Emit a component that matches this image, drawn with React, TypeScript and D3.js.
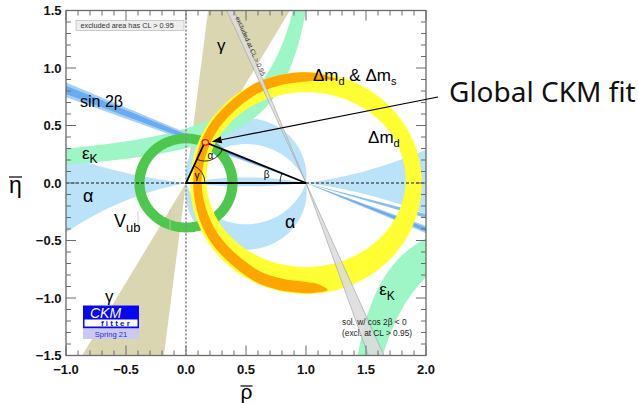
import React, { useRef, useEffect } from "react";
import * as d3 from "d3";

type Pt = [number, number];

// axes
const rhoDomain: Pt = [-1, 2];
const etaDomain: Pt = [-1.5, 1.5];
const rhoTicks = [-1, -0.5, 0, 0.5, 1, 1.5, 2];
const etaTicks = [-1.5, -1, -0.5, 0, 0.5, 1, 1.5];

// fitted apex of the unitarity triangle (rho, eta)
const apex: Pt = [0.157, 0.356];

// gamma: double wedge from the origin (degrees)
const gammaAngles: Pt = [60, 83];

// sin 2beta: lines through (1,0), eta reached at rho = -1
const sin2bHalo: Pt = [0.745, 0.875];
const sin2bCore: Pt = [0.775, 0.845];
// thin alpha streak below the axis, eta at rho = 2
const alphaStreak: Pt = [-0.27, -0.305];

// cos 2beta < 0 solution: rho at eta = +1.5 and at eta = -1.5
const cos2bTop: Pt = [0.34, 0.4];
const cos2bBottom: Pt = [1.52, 1.65];

// alpha: circles through (0,0) and (1,0) with centre (0.5, k)
const alphaLeftK: Pt = [4.3, -2.54];
const alphaRightK: Pt = [3.59, -3.84];
const alphaUpperK: Pt = [0.06, -0.2];
const alphaLowerK: Pt = [-0.0745, 0.169];

// epsilon_K edges: eta = c + k / (a - rho), as [a, k, c]
const epsUpperEdges = [
  [1.228, 0.478, 0.0855],
  [1.27, 0.4104, -0.0208],
];
const epsLowerEdges = [
  [1.162, 0.402, 0],
  [1.206, 0.651, 0],
];

// |V_ub|: ring around the origin
const vubRadii: Pt = [0.345, 0.43];

// dm_d: outer circle around (1,0), inner ellipse [cx, cy, rx, ry]
const dmdOuterR = 0.965;
const dmdInner = [1.0, 0.03, 0.83, 0.76];

// dm_d & dm_s band around (1,0): polar angle (deg), outer and inner radius
const dmsAngles = [74, 82, 90, 105, 120, 150, 180, 210, 240, 255, 270, 276, 281];
const dmsOuter = [0.935, 0.952, 0.962, 0.963, 0.96, 0.95, 0.94, 0.945, 0.952, 0.957, 0.958, 0.955, 0.947];
const dmsInner = [0.935, 0.905, 0.882, 0.876, 0.874, 0.87, 0.87, 0.858, 0.855, 0.855, 0.86, 0.88, 0.947];

// arrow of the "Global CKM fit" label (data coords)
const arrowTail: Pt = [2.1, 0.748];
const arrowTip: Pt = [0.214, 0.359];

const FONT = "Liberation Sans, Arial, Helvetica, sans-serif";

export default function App() {
  const svgRef = useRef<SVGSVGElement | null>(null);

  useEffect(() => {
    if (!svgRef.current) return;
    document.body.style.margin = "0";

    const svg = d3.select(svgRef.current);
    svg.selectAll("*").remove();

    const x = d3.scaleLinear().domain(rhoDomain).range([66, 426]);
    const y = d3.scaleLinear().domain(etaDomain).range([355.5, 10.5]);

    const poly = d3
      .line<Pt>()
      .x((d) => x(d[0]))
      .y((d) => y(d[1]))
      .curve(d3.curveLinearClosed);
    const smooth = d3
      .line<Pt>()
      .x((d) => x(d[0]))
      .y((d) => y(d[1]))
      .curve(d3.curveCatmullRomClosed.alpha(0.5));

    const rad = (deg: number) => (deg * Math.PI) / 180;

    const ellipse = (cx: number, cy: number, rx: number, ry: number): Pt[] =>
      d3.range(0, 360, 2).map((a) => [cx + rx * Math.cos(rad(a)), cy + ry * Math.sin(rad(a))] as Pt);

    // near-axis branch of a circle through (0,0),(1,0)
    const nearArc = (k: number, r: number) =>
      k - Math.sign(k) * Math.sqrt(k * k + 0.25 - (r - 0.5) * (r - 0.5));

    // far arc of that circle from (1,0) to (0,0), above (up) or below
    const farArc = (k: number, up: boolean): Pt[] => {
      const R = Math.sqrt(k * k + 0.25);
      let a0 = Math.atan2(-k, 0.5);
      let a1 = Math.atan2(-k, -0.5);
      if (!up) {
        const t = a0;
        a0 = Math.atan2(-k, -0.5);
        a1 = t;
      }
      if (a1 < a0) a1 += 2 * Math.PI;
      const pts = d3.range(0, 121).map((i) => {
        const a = a0 + ((a1 - a0) * i) / 120;
        return [0.5 + R * Math.cos(a), k + R * Math.sin(a)] as Pt;
      });
      return up ? pts : pts.reverse();
    };

    const defs = svg.append("defs");
    defs
      .append("clipPath")
      .attr("id", "plotClip")
      .append("rect")
      .attr("x", 66)
      .attr("y", 10.5)
      .attr("width", 360)
      .attr("height", 345);

    svg.append("rect").attr("width", 638).attr("height", 403).attr("fill", "#fff");

    const plot = svg.append("g").attr("clip-path", "url(#plotClip)");

    // gamma
    const wedge = (cx: number, cy: number, a1: number, a2: number, R = 4): Pt[] => [
      [cx, cy],
      [cx + R * Math.cos(rad(a1)), cy + R * Math.sin(rad(a1))],
      [cx + R * Math.cos(rad(a2)), cy + R * Math.sin(rad(a2))],
    ];
    [0, 180].forEach((off) => {
      plot
        .append("path")
        .attr("d", poly(wedge(0, 0, gammaAngles[0] + off, gammaAngles[1] + off)))
        .attr("fill", "#dad6b1");
    });

    // alpha
    const alphaFill = "#bae2f8";
    const rL = d3.range(-1.05, 0.0001, 0.01);
    const rM = d3.range(0, 1.0001, 0.01);
    const rR = d3.range(1, 2.0501, 0.01);
    const regionA: Pt[] = [
      ...rL.map((r) => [r, nearArc(alphaLeftK[0], r)] as Pt),
      ...rL.slice().reverse().map((r) => [r, nearArc(alphaLeftK[1], r)] as Pt),
    ];
    const regionB: Pt[] = [
      ...rM.map((r) => [r, nearArc(alphaLeftK[1], r)] as Pt),
      ...rM.slice().reverse().map((r) => [r, nearArc(alphaLeftK[0], r)] as Pt),
    ];
    const regionC: Pt[] = [
      ...rR.map((r) => [r, nearArc(alphaRightK[0], r)] as Pt),
      ...rR.slice().reverse().map((r) => [r, nearArc(alphaRightK[1], r)] as Pt),
    ];
    const regionD: Pt[] = [...farArc(alphaUpperK[0], true), ...farArc(alphaUpperK[1], true).reverse()];
    const regionE: Pt[] = [...farArc(alphaLowerK[0], false), ...farArc(alphaLowerK[1], false).reverse()];
    [regionA, regionB, regionC, regionD, regionE].forEach((reg) => {
      plot.append("path").attr("d", poly(reg)).attr("fill", alphaFill);
    });

    // epsilon_K
    const epsEta = (e: number[], r: number) => e[2] + e[1] / (e[0] - r);
    const upTopR = (e: number[]) => e[0] - e[1] / (1.6 - e[2]);
    const loBotR = (e: number[]) => e[0] + e[1] / (1.6 + e[2]);
    const [eb, es] = epsUpperEdges;
    const epsUp: Pt[] = [
      ...d3.range(-1.05, upTopR(eb), 0.002).map((r) => [r, epsEta(eb, r)] as Pt),
      [upTopR(eb), 1.6],
      [upTopR(es), 1.6],
      ...d3.range(upTopR(es), -1.05, -0.002).map((r) => [r, epsEta(es, r)] as Pt),
    ];
    const [ea, ec] = epsLowerEdges;
    const epsLo: Pt[] = [
      [loBotR(ea), -1.6],
      ...d3.range(loBotR(ea), 2.05, 0.002).map((r) => [r, epsEta(ea, r)] as Pt),
      ...d3.range(2.05, loBotR(ec), -0.002).map((r) => [r, epsEta(ec, r)] as Pt),
      [loBotR(ec), -1.6],
    ];
    [epsUp, epsLo].forEach((reg) => {
      plot.append("path").attr("d", poly(reg)).attr("fill", "#9ef5c5");
    });

    // sin 2beta (and its continuation through (1,0))
    const lineWedge = (e1: number, e2: number): Pt[][] => {
      const s1 = e1 / 2;
      const s2 = e2 / 2;
      return [
        [
          [1, 0],
          [-1.5, s1 * 2.5],
          [-1.5, s2 * 2.5],
        ],
        [
          [1, 0],
          [2.5, -s1 * 1.5],
          [2.5, -s2 * 1.5],
        ],
      ];
    };
    lineWedge(sin2bHalo[0], sin2bHalo[1]).forEach((w) =>
      plot.append("path").attr("d", poly(w)).attr("fill", "#a7cff6")
    );
    lineWedge(sin2bCore[0], sin2bCore[1]).forEach((w) =>
      plot.append("path").attr("d", poly(w)).attr("fill", "#69acf0")
    );
    plot
      .append("path")
      .attr(
        "d",
        poly([
          [1, 0],
          [2.5, alphaStreak[0] * 1.5],
          [2.5, alphaStreak[1] * 1.5],
        ])
      )
      .attr("fill", "#86bdf3");

    // |V_ub|
    plot
      .append("path")
      .attr("d", (smooth(ellipse(0, 0, vubRadii[1], vubRadii[1])) || "") + (smooth(ellipse(0, 0, vubRadii[0], vubRadii[0])) || ""))
      .attr("fill", "#4dc74d")
      .attr("fill-rule", "evenodd");

    // dm_d
    plot
      .append("path")
      .attr(
        "d",
        (smooth(ellipse(1, 0, dmdOuterR, dmdOuterR)) || "") +
          (smooth(ellipse(dmdInner[0], dmdInner[1], dmdInner[2], dmdInner[3])) || "")
      )
      .attr("fill", "#ffff33")
      .attr("fill-rule", "evenodd");

    // dm_d & dm_s
    const dmsPts: Pt[] = [
      ...dmsAngles.map((a, i) => [1 + dmsOuter[i] * Math.cos(rad(a)), dmsOuter[i] * Math.sin(rad(a))] as Pt),
      ...dmsAngles
        .slice(1, -1)
        .map((a, i) => [1 + dmsInner[i + 1] * Math.cos(rad(a)), dmsInner[i + 1] * Math.sin(rad(a))] as Pt)
        .reverse(),
    ];
    plot.append("path").attr("d", smooth(dmsPts)).attr("fill", "#ffa500");

    // cos 2beta < 0 solution
    const grayUp: Pt[] = [
      [1, 0],
      [cos2bTop[0], 1.5],
      [cos2bTop[1], 1.5],
    ];
    const grayDn: Pt[] = [
      [1, 0],
      [cos2bBottom[0], -1.5],
      [cos2bBottom[1], -1.5],
    ];
    [grayUp, grayDn].forEach((w) =>
      plot
        .append("path")
        .attr("d", poly(w))
        .attr("fill", "#dcdcdc")
        .attr("fill-opacity", 0.88)
        .attr("stroke", "#9c9c9c")
        .attr("stroke-width", 0.6)
    );

    // reference lines
    plot
      .append("line")
      .attr("x1", x(0))
      .attr("x2", x(0))
      .attr("y1", y(-1.5))
      .attr("y2", y(1.5))
      .attr("stroke", "#8a8a8a")
      .attr("stroke-width", 1.6)
      .attr("stroke-dasharray", "2,2");
    plot
      .append("line")
      .attr("x1", x(-1))
      .attr("x2", x(2))
      .attr("y1", y(0))
      .attr("y2", y(0))
      .attr("stroke", "#000")
      .attr("stroke-width", 0.9)
      .attr("stroke-dasharray", "3,2");

    // thin separators round the V_ub label
    [
      [-0.4, -0.25, -0.41],
      [-0.133, -0.23, -0.43],
    ].forEach(([r, e1, e2]) =>
      plot
        .append("line")
        .attr("x1", x(r))
        .attr("x2", x(r))
        .attr("y1", y(e1))
        .attr("y2", y(e2))
        .attr("stroke", "#c4c4c4")
        .attr("stroke-width", 0.8)
    );

    // triangle
    const O: Pt = [x(0), y(0)];
    const B: Pt = [x(1), y(0)];
    const P: Pt = [x(apex[0]), y(apex[1])];
    plot
      .append("path")
      .attr("d", `M${O[0]},${O[1]}L${B[0]},${B[1]}L${P[0]},${P[1]}Z`)
      .attr("fill", "none")
      .attr("stroke", "#000")
      .attr("stroke-width", 1.8)
      .attr("stroke-linejoin", "miter");

    const unit = (a: Pt, b: Pt): Pt => {
      const dx = b[0] - a[0];
      const dy = b[1] - a[1];
      const l = Math.hypot(dx, dy);
      return [dx / l, dy / l];
    };
    const angleMark = (V: Pt, A: Pt, C: Pt, r: number, lr: number, txt: string) => {
      const u1 = unit(V, A);
      const u2 = unit(V, C);
      const cross = u1[0] * u2[1] - u1[1] * u2[0];
      const p1 = [V[0] + r * u1[0], V[1] + r * u1[1]];
      const p2 = [V[0] + r * u2[0], V[1] + r * u2[1]];
      plot
        .append("path")
        .attr("d", `M${p1[0]},${p1[1]}A${r},${r} 0 0 ${cross > 0 ? 1 : 0} ${p2[0]},${p2[1]}`)
        .attr("fill", "none")
        .attr("stroke", "#000")
        .attr("stroke-width", 0.8);
      const bx = u1[0] + u2[0];
      const by = u1[1] + u2[1];
      const bl = Math.hypot(bx, by);
      plot
        .append("text")
        .attr("x", V[0] + (lr * bx) / bl)
        .attr("y", V[1] + (lr * by) / bl + 3)
        .attr("text-anchor", "middle")
        .attr("font-family", FONT)
        .attr("font-size", 10)
        .text(txt);
    };
    angleMark(P, O, B, 19, 15, "α");
    angleMark(O, B, P, 19, 13, "γ");
    angleMark(B, O, P, 26, 40, "β");

    // fit result at the apex
    plot
      .append("ellipse")
      .attr("cx", P[0] + 0.5)
      .attr("cy", P[1] + 0.3)
      .attr("rx", 3.2)
      .attr("ry", 2.8)
      .attr("fill", "#ffd21f")
      .attr("stroke", "#e8141a")
      .attr("stroke-width", 1.2);

    // labels inside the plot
    const label = (
      r: number,
      e: number,
      parts: { t: string; sub?: boolean }[],
      size = 16,
      subSize = 11
    ) => {
      const t = plot
        .append("text")
        .attr("x", x(r))
        .attr("y", y(e))
        .attr("font-family", FONT)
        .attr("font-size", size)
        .attr("fill", "#000");
      let down = false;
      parts.forEach((p) => {
        const s = t.append("tspan").text(p.t);
        if (p.sub) {
          s.attr("font-size", subSize).attr("dy", down ? 0 : 4.5);
          down = true;
        } else if (down) {
          s.attr("dy", -4.5);
          down = false;
        }
      });
    };
    label(-0.883, 0.661, [{ t: "sin 2β" }], 16);
    label(-0.867, 0.212, [{ t: "ε" }, { t: "K", sub: true }], 17, 12);
    label(-0.858, -0.165, [{ t: "α" }], 18);
    label(0.825, -0.39, [{ t: "α" }], 18);
    label(-0.6, -0.385, [{ t: "V" }, { t: "ub", sub: true }], 18, 13);
    label(0.258, 1.145, [{ t: "γ" }], 17);
    label(-0.675, -1.035, [{ t: "γ" }], 17);
    label(1.61, -0.975, [{ t: "ε" }, { t: "K", sub: true }], 17, 12);
    label(1.058, 0.89, [{ t: "Δm" }, { t: "d", sub: true }, { t: " & Δm" }, { t: "s", sub: true }], 17, 11);
    label(1.517, 0.348, [{ t: "Δm" }, { t: "d", sub: true }], 17, 11);

    // text along the excluded cos 2beta < 0 band
    plot
      .append("text")
      .attr("transform", `translate(${x(0.535)},${y(1.19)}) rotate(66)`)
      .attr("text-anchor", "middle")
      .attr("dy", 2)
      .attr("font-family", FONT)
      .attr("font-size", 6.6)
      .attr("fill", "#333")
      .text("excluded at CL > 0.95");

    plot
      .append("text")
      .attr("x", x(1.3))
      .attr("y", y(-1.235))
      .attr("font-family", FONT)
      .attr("font-size", 8.3)
      .attr("fill", "#222")
      .text("sol. w/ cos 2β < 0");
    plot
      .append("text")
      .attr("x", x(1.3))
      .attr("y", y(-1.33))
      .attr("font-family", FONT)
      .attr("font-size", 8.3)
      .attr("fill", "#222")
      .text("(excl. at CL > 0.95)");

    // legend box
    svg
      .append("rect")
      .attr("x", 76)
      .attr("y", 20.5)
      .attr("width", 108)
      .attr("height", 10)
      .attr("fill", "#eeeeee")
      .attr("stroke", "#b0b0b0")
      .attr("stroke-width", 0.6);
    svg
      .append("text")
      .attr("x", 80.5)
      .attr("y", 28.3)
      .attr("font-family", FONT)
      .attr("font-size", 7.3)
      .attr("fill", "#333")
      .text("excluded area has CL > 0.95");

    // CKMfitter logo
    const logo = svg.append("g");
    logo.append("rect").attr("x", 83).attr("y", 305.5).attr("width", 56).attr("height", 23).attr("fill", "#0808f0");
    logo.append("rect").attr("x", 84.5).attr("y", 319.5).attr("width", 53).attr("height", 7).attr("fill", "#fff");
    logo
      .append("text")
      .attr("x", 90)
      .attr("y", 317.5)
      .attr("font-family", FONT)
      .attr("font-style", "italic")
      .attr("font-size", 14)
      .attr("fill", "#fff")
      .text("CKM");
    logo
      .append("text")
      .attr("x", 101)
      .attr("y", 326)
      .attr("font-family", FONT)
      .attr("font-weight", "bold")
      .attr("font-size", 8)
      .attr("letter-spacing", 2.2)
      .attr("fill", "#0808f0")
      .text("fitter");
    logo.append("rect").attr("x", 83).attr("y", 328.5).attr("width", 56).attr("height", 10.5).attr("fill", "#cacaf0");
    logo
      .append("text")
      .attr("x", 111)
      .attr("y", 336.5)
      .attr("text-anchor", "middle")
      .attr("font-family", FONT)
      .attr("font-size", 7.6)
      .attr("fill", "#2a2ad8")
      .text("Spring 21");

    // frame and ticks
    const axisColor = "#6a6a6a";
    const minorR = d3.range(-1, 2.0001, 0.1);
    const minorE = d3.range(-1.5, 1.5001, 0.1);
    const isMajor = (v: number) => Math.abs(v * 2 - Math.round(v * 2)) < 1e-6;
    const ticks = svg.append("g").attr("stroke", axisColor).attr("stroke-width", 1);
    minorR.forEach((v) => {
      const L = isMajor(v) ? 10 : 5;
      ticks.append("line").attr("x1", x(v)).attr("x2", x(v)).attr("y1", y(-1.5)).attr("y2", y(-1.5) - L);
      ticks.append("line").attr("x1", x(v)).attr("x2", x(v)).attr("y1", y(1.5)).attr("y2", y(1.5) + L);
    });
    minorE.forEach((v) => {
      const L = isMajor(v) ? 10 : 5;
      ticks.append("line").attr("x1", x(-1)).attr("x2", x(-1) + L).attr("y1", y(v)).attr("y2", y(v));
      ticks.append("line").attr("x1", x(2)).attr("x2", x(2) - L).attr("y1", y(v)).attr("y2", y(v));
    });
    svg
      .append("rect")
      .attr("x", x(-1))
      .attr("y", y(1.5))
      .attr("width", x(2) - x(-1))
      .attr("height", y(-1.5) - y(1.5))
      .attr("fill", "none")
      .attr("stroke", axisColor)
      .attr("stroke-width", 1.3);

    const fmt = d3.format(".1f");
    rhoTicks.forEach((v) => {
      svg
        .append("text")
        .attr("x", x(v))
        .attr("y", 374)
        .attr("text-anchor", "middle")
        .attr("font-family", FONT)
        .attr("font-weight", "bold")
        .attr("font-size", 13)
        .attr("fill", "#111")
        .text(fmt(v));
    });
    etaTicks.forEach((v) => {
      svg
        .append("text")
        .attr("x", 61.5)
        .attr("y", y(v) + 4.7)
        .attr("text-anchor", "end")
        .attr("font-family", FONT)
        .attr("font-weight", "bold")
        .attr("font-size", 13)
        .attr("fill", "#111")
        .text(fmt(v));
    });

    // axis titles with bars
    svg
      .append("text")
      .attr("x", 246.5)
      .attr("y", 399)
      .attr("text-anchor", "middle")
      .attr("font-family", FONT)
      .attr("font-size", 21)
      .text("ρ");
    svg.append("line").attr("x1", 240.5).attr("x2", 252.5).attr("y1", 386).attr("y2", 386).attr("stroke", "#000").attr("stroke-width", 1.2);
    svg
      .append("text")
      .attr("x", 15.5)
      .attr("y", 192.5)
      .attr("text-anchor", "middle")
      .attr("font-family", FONT)
      .attr("font-size", 23)
      .text("η");
    svg.append("line").attr("x1", 9).attr("x2", 22).attr("y1", 177).attr("y2", 177).attr("stroke", "#000").attr("stroke-width", 1.2);

    // Global CKM fit annotation
    const T: Pt = [x(arrowTail[0]), y(arrowTail[1])];
    const H: Pt = [x(arrowTip[0]), y(arrowTip[1])];
    const u = unit(T, H);
    const base: Pt = [H[0] - 10 * u[0], H[1] - 10 * u[1]];
    svg
      .append("line")
      .attr("x1", T[0])
      .attr("y1", T[1])
      .attr("x2", base[0])
      .attr("y2", base[1])
      .attr("stroke", "#000")
      .attr("stroke-width", 1.2);
    svg
      .append("path")
      .attr(
        "d",
        `M${H[0]},${H[1]}L${base[0] - 3.6 * u[1]},${base[1] + 3.6 * u[0]}L${base[0] + 3.6 * u[1]},${base[1] - 3.6 * u[0]}Z`
      )
      .attr("fill", "#000");
    svg
      .append("text")
      .attr("x", 449)
      .attr("y", 102)
      .attr("font-family", "Noto Sans, Open Sans, sans-serif")
      .attr("font-size", 28)
      .attr("fill", "#111")
      .text("Global CKM fit");
  }, []);

  return (
    <svg
      ref={svgRef}
      width={638}
      height={403}
      style={{ display: "block", position: "absolute", left: 0, top: 0 }}
    />
  );
}
